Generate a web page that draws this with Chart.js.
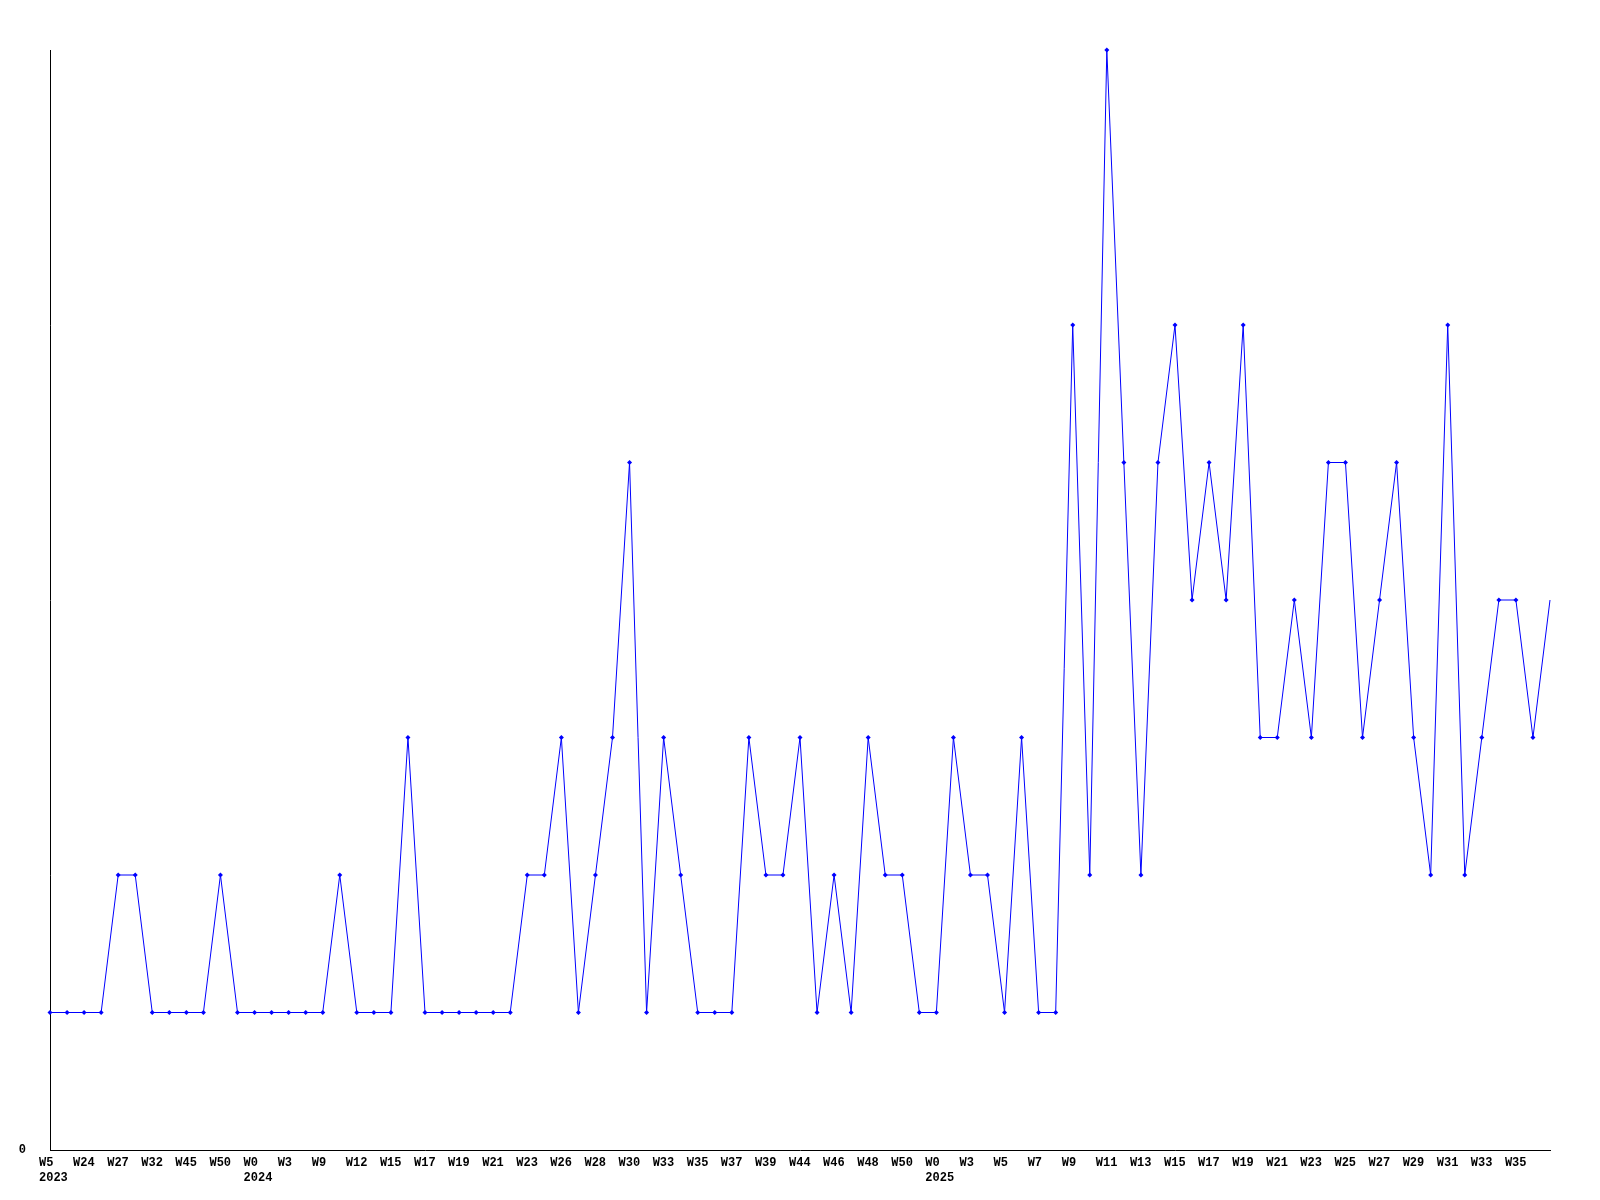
<!DOCTYPE html>
<html>
<head>
<meta charset="utf-8">
<script src="https://cdn.jsdelivr.net/npm/chart.js@4/dist/chart.umd.min.js"></script>
<style>
  body { margin: 0; background: #fff; }
</style>
</head>
<body>
<canvas id="chart" width="1600" height="1200"></canvas>
<script>
// week labels, one per point (only every other one is printed on the axis)
const weeks = [
    'W5', 'W10', 'W24', 'W26', 'W27', 'W30', 'W32', 'W40', 'W45', 'W48',
    'W50', 'W52', 'W0', 'W1', 'W3', 'W6', 'W9', 'W10', 'W12', 'W13',
    'W15', 'W16', 'W17', 'W18', 'W19', 'W20', 'W21', 'W22', 'W23', 'W24',
    'W26', 'W27', 'W28', 'W29', 'W30', 'W31', 'W33', 'W34', 'W35', 'W36',
    'W37', 'W38', 'W39', 'W41', 'W44', 'W45', 'W46', 'W47', 'W48', 'W49',
    'W50', 'W52', 'W0', 'W1', 'W3', 'W4', 'W5', 'W6', 'W7', 'W8',
    'W9', 'W10', 'W11', 'W12', 'W13', 'W14', 'W15', 'W16', 'W17', 'W18',
    'W19', 'W20', 'W21', 'W22', 'W23', 'W24', 'W25', 'W26', 'W27', 'W28',
    'W29', 'W30', 'W31', 'W32', 'W33', 'W34', 'W35', 'W36', 'W37'
];
const years = ['2023', '2024', '2025'];

const counts = [
    1, 1, 1, 1, 2, 2, 1, 1, 1, 1,
    2, 1, 1, 1, 1, 1, 1, 2, 1, 1,
    1, 3, 1, 1, 1, 1, 1, 1, 2, 2,
    3, 1, 2, 3, 5, 1, 3, 2, 1, 1,
    1, 3, 2, 2, 3, 1, 2, 1, 3, 2,
    2, 1, 1, 3, 2, 2, 1, 3, 1, 1,
    6, 2, 8, 5, 2, 5, 6, 4, 5, 4,
    6, 3, 3, 4, 3, 5, 5, 3, 4, 5,
    3, 2, 6, 2, 3, 4, 4, 3, 4
];

// year goes under the first point and under every W0
const yearAt = [];
let y = 0;
weeks.forEach((w, i) => {
    if (i === 0 || w === 'W0')
        yearAt[i] = years[y++];
});

const last = counts.length - 1;
const font = { family: 'Liberation Mono', size: 12, weight: 'bold', lineHeight: 1.2 };

new Chart(document.getElementById('chart'), {
    type: 'line',
    data: {
        labels: weeks,
        datasets: [{
            data: counts,
            borderColor: '#0000ff',
            borderWidth: 1,
            backgroundColor: '#0000ff',
            pointStyle: 'rectRot',
            pointRadius: ctx => ctx.dataIndex === last ? 0 : 2.5,
            pointBorderWidth: 0,
            tension: 0,
            fill: false,
            clip: false
        }]
    },
    options: {
        responsive: false,
        animation: false,
        events: [],
        layout: {
            padding: { left: 0, right: 50, top: 50, bottom: 0 }
        },
        plugins: {
            legend: { display: false },
            tooltip: { enabled: false }
        },
        scales: {
            x: {
                offset: false,
                grid: { display: false },
                border: { display: true, color: '#000', width: 1 },
                afterFit: s => { s.height = 50; },
                ticks: {
                    autoSkip: false,
                    maxRotation: 0,
                    minRotation: 0,
                    align: 'start',
                    labelOffset: -11,
                    padding: -2,
                    color: '#000',
                    font: font,
                    callback: (v, i) => {
                        if (i % 2 || i === last)
                            return '';
                        return yearAt[i] ? [weeks[i], yearAt[i]] : weeks[i];
                    }
                }
            },
            y: {
                min: 0,
                max: 8,
                grid: { display: false },
                border: { display: true, color: '#000', width: 1 },
                afterFit: s => { s.width = 50; },
                ticks: {
                    stepSize: 1,
                    padding: 16,
                    color: '#000',
                    font: font,
                    callback: v => v === 0 ? '0' : ''
                }
            }
        }
    }
});
</script>
</body>
</html>
